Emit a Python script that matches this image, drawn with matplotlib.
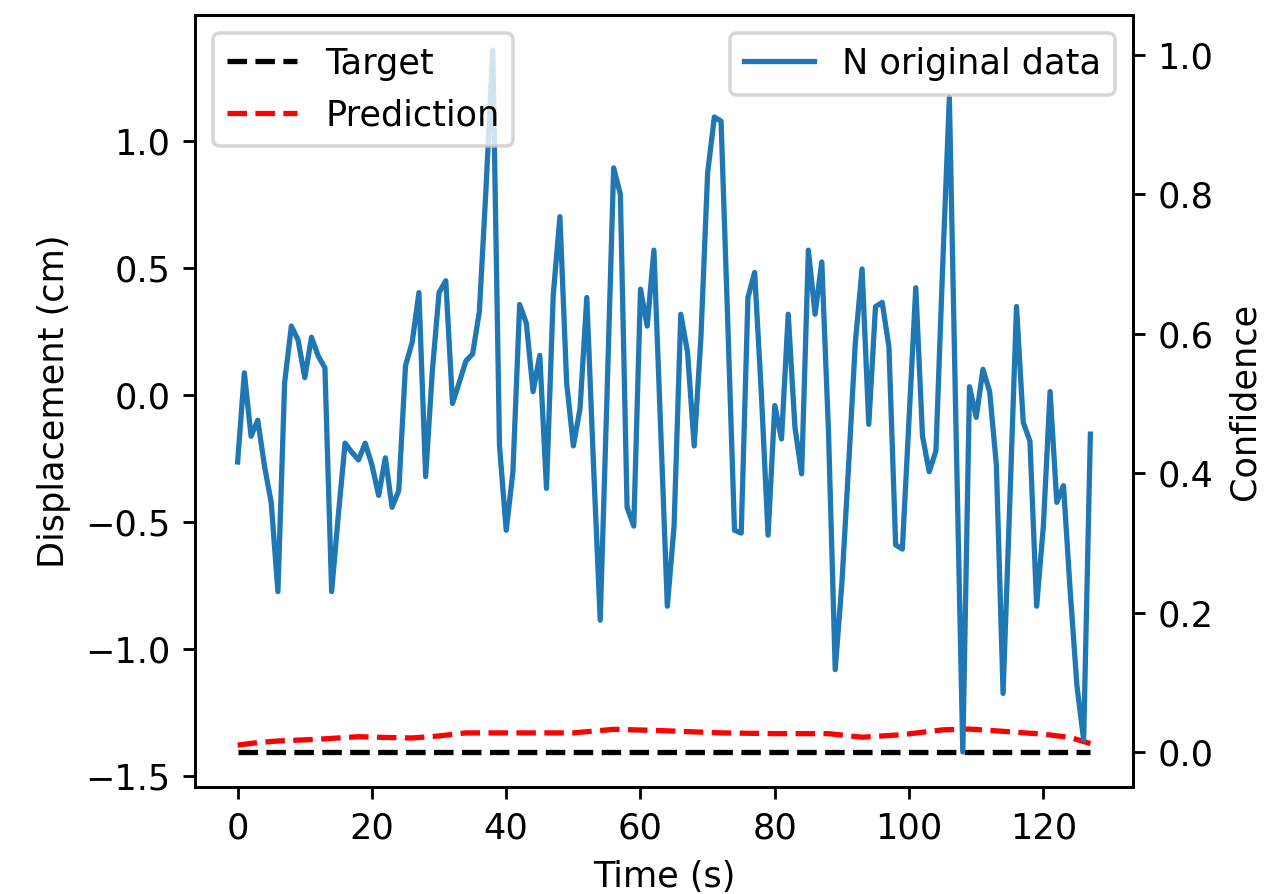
import matplotlib
matplotlib.use("Agg")
import matplotlib.pyplot as plt
import numpy as np

# Blue series: confidence-axis values for t = 0..127
time = list(range(128))
n_original = [
    0.416, 0.544, 0.453, 0.476, 0.410, 0.358, 0.230, 0.530, 0.611, 0.591,
    0.537, 0.595, 0.568, 0.551, 0.230, 0.340, 0.443, 0.430, 0.419, 0.443,
    0.412, 0.368, 0.422, 0.351, 0.375, 0.554, 0.588, 0.659, 0.395, 0.547,
    0.659, 0.676, 0.500, 0.530, 0.561, 0.571, 0.632, 0.810, 1.007, 0.439,
    0.318, 0.402, 0.642, 0.615, 0.517, 0.569, 0.378, 0.655, 0.768, 0.530,
    0.439, 0.493, 0.652, 0.412, 0.189, 0.507, 0.838, 0.800, 0.351, 0.324,
    0.664, 0.611, 0.720, 0.466, 0.209, 0.324, 0.628, 0.574, 0.439, 0.595,
    0.831, 0.911, 0.905, 0.615, 0.318, 0.314, 0.652, 0.688, 0.514, 0.311,
    0.497, 0.449, 0.628, 0.466, 0.399, 0.720, 0.628, 0.703, 0.459, 0.118,
    0.243, 0.412, 0.588, 0.693, 0.470, 0.639, 0.645, 0.581, 0.297, 0.291,
    0.480, 0.666, 0.453, 0.402, 0.432, 0.696, 0.939, 0.459, 0.000, 0.524,
    0.480, 0.549, 0.517, 0.412, 0.084, 0.358, 0.639, 0.473, 0.446, 0.209,
    0.324, 0.517, 0.358, 0.382, 0.230, 0.095, 0.017, 0.456,
]

target_values = [-1.405] * len(time)

pred_time = [0, 3, 6, 12, 18, 22, 26, 30, 34, 42, 50, 56, 62, 72, 80, 88,
             93, 99, 105, 109, 113, 120, 124, 127]
pred_values = [-1.378, -1.368, -1.362, -1.355, -1.345, -1.348, -1.350, -1.342,
               -1.330, -1.330, -1.330, -1.316, -1.320, -1.330, -1.333, -1.333,
               -1.347, -1.337, -1.318, -1.315, -1.322, -1.335, -1.348, -1.372]

dpi = 253
fig = plt.figure(figsize=(1266 / dpi, 894 / dpi), dpi=dpi)
ax = fig.add_axes([195 / 1266, 1 - 787 / 894, (1133 - 195) / 1266, (787 - 15) / 894])

h1, = ax.plot(time, target_values, 'k--', label='Target')
h2, = ax.plot(pred_time, pred_values, 'r--', label='Prediction')
ax.set_ylim(-1.543, 1.496)
ax.set_yticks([-1.5, -1.0, -0.5, 0.0, 0.5, 1.0])
ax.set_xlabel('Time (s)')
ax.set_ylabel('Displacement (cm)')

ax2 = ax.twinx()
ax2.plot(time, n_original, color='#1f77b4', label='N original data')
ax2.set_ylabel('Confidence')

leg1 = ax2.legend(handles=[h1, h2], loc='upper left')
ax2.add_artist(leg1)
ax2.legend(loc='upper right')

fig.savefig('out.png', dpi=dpi)
